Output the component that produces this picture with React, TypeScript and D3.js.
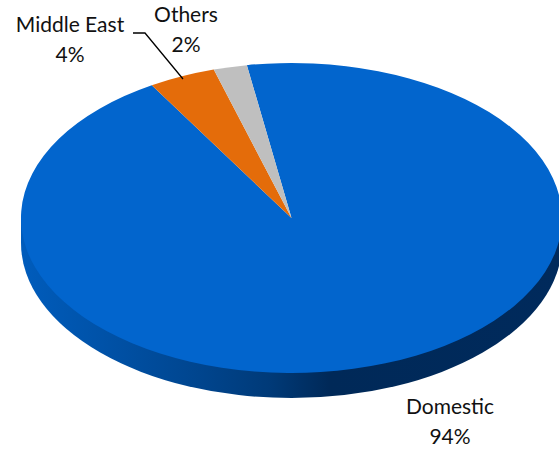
import React from "react";
import * as d3 from "d3";

const categories = ["Domestic", "Middle East", "Others"];
const shares = [94, 4, 2];
const sliceColors = ["#0265cd", "#e46c0a", "#bfbfbf"];
const wallStops = [
  { at: 0, color: "#005cbc" },
  { at: 0.15, color: "#0052a8" },
  { at: 0.33, color: "#00458e" },
  { at: 0.46, color: "#003a78" },
  { at: 0.57, color: "#002958" },
  { at: 1, color: "#002a5c" },
];

const WIDTH = 559;
const HEIGHT = 452;
const cx = 291.5;
const cy = 218;
const rx = 270.5;
const ry = 155;
const depth = 25;
const firstSliceStart = (-9.5 * Math.PI) / 180;

const labelFont = "Lato, 'Open Sans', sans-serif";
const labels = [
  { name: "Middle East", share: shares[1], x: 70, y: 32 },
  { name: "Others", share: shares[2], x: 186, y: 22 },
  { name: "Domestic", share: shares[0], x: 450, y: 414 },
];
const leader = [
  [133, 33],
  [145, 33],
  [183, 79],
] as [number, number][];

export default function App() {
  const pie = d3
    .pie<number>()
    .sort(null)
    .startAngle(firstSliceStart)
    .endAngle(firstSliceStart + 2 * Math.PI);
  const slices = pie(shares);
  const arc = d3.arc<d3.PieArcDatum<number>>().innerRadius(0).outerRadius(rx);
  const wallArc = d3
    .arc()
    .innerRadius(0)
    .outerRadius(rx)
    .startAngle(Math.PI / 2)
    .endAngle((3 * Math.PI) / 2);
  const squash = ry / rx;
  const line = d3.line();

  return (
    <svg
      width={WIDTH}
      height={HEIGHT}
      style={{ position: "absolute", left: 0, top: 0, background: "#fff" }}
    >
      <defs>
        <linearGradient id="wall" gradientUnits="userSpaceOnUse" x1={-rx} x2={rx} y1={0} y2={0}>
          {wallStops.map((s) => (
            <stop key={s.at} offset={s.at} stopColor={s.color} />
          ))}
        </linearGradient>
      </defs>
      {/* Extruded rim: lower half-ellipse plus the band joining it to the top face */}
      <g fill="url(#wall)" transform={`translate(${cx},${cy})`}>
        <rect x={-rx} y={0} width={2 * rx} height={depth} />
        <path d={wallArc({} as any) ?? ""} transform={`translate(0,${depth}) scale(1,${squash})`} />
      </g>
      <g transform={`translate(${cx},${cy}) scale(1,${squash})`}>
        {slices.map((s, i) => (
          <path key={categories[i]} d={arc(s) ?? ""} fill={sliceColors[i]} />
        ))}
      </g>
      <path d={line(leader) ?? ""} fill="none" stroke="#000" strokeWidth={1.3} />
      <g fontFamily={labelFont} fontSize={21} fill="#111" textAnchor="middle">
        {labels.map((l) => (
          <text key={l.name} x={l.x} y={l.y}>
            <tspan x={l.x}>{l.name}</tspan>
            <tspan x={l.x} dy={30}>{`${l.share}%`}</tspan>
          </text>
        ))}
      </g>
    </svg>
  );
}
